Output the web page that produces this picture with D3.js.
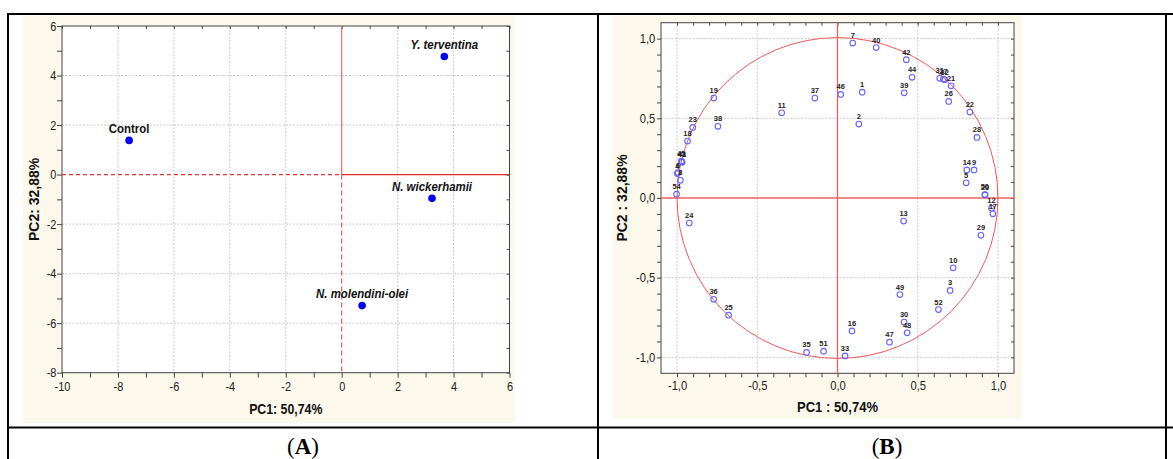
<!DOCTYPE html>
<html><head><meta charset="utf-8">
<script src="https://cdn.jsdelivr.net/npm/d3@7/dist/d3.min.js"></script>
<style>body{margin:0;background:#fff}svg{display:block}text{font-family:"Liberation Sans",Arial,sans-serif}</style>
</head><body>
<script>
// ---------- Panel A data (scores) ----------
const scoreNames = ["Control", "Y. terventina", "N. wickerhamii", "N. molendini-olei"];
const scorePC1   = [-7.6, 3.67, 3.23, 0.73];
const scorePC2   = [1.38, 4.77, -0.96, -5.29];
const scoreItalic = [false, true, true, true];
const xTicksA = [-10, -8, -6, -4, -2, 0, 2, 4, 6];
const yTicksA = [-8, -6, -4, -2, 0, 2, 4, 6];

// ---------- Panel B data (loadings) ----------
const loadLabels = ["7","40","42","44","39","1","46","37","11","2","19","38","23","18",
  "41","43","45","4","6","8","54","31","27","32","21","26","22","28","14","9","5","20","50","12","17",
  "13","29","24","10","3","49","52","30","48","47","16","33","51","35","36","25"];
const loadPC1 = [0.095,0.241,0.429,0.465,0.416,0.154,0.020,-0.141,-0.348,0.133,-0.771,-0.745,-0.902,-0.935,
  -0.968,-0.971,-0.973,-0.998,-0.995,-0.979,-1.003,0.637,0.660,0.668,0.708,0.693,0.825,0.869,0.806,0.851,0.802,0.920,0.918,0.960,0.968,
  0.412,0.894,-0.924,0.721,0.702,0.389,0.629,0.415,0.434,0.324,0.090,0.047,-0.087,-0.193,-0.772,-0.679];
const loadPC2 = [0.972,0.944,0.868,0.757,0.660,0.664,0.650,0.627,0.535,0.464,0.627,0.450,0.443,0.357,
  0.224,0.228,0.232,0.153,0.160,0.111,0.024,0.751,0.746,0.742,0.704,0.606,0.539,0.380,0.176,0.176,0.095,0.019,0.022,-0.064,-0.099,
  -0.145,-0.234,-0.157,-0.438,-0.580,-0.606,-0.700,-0.778,-0.846,-0.905,-0.834,-0.991,-0.961,-0.969,-0.636,-0.735];
const xTicksB = [-1, -0.5, 0, 0.5, 1];
const yTicksB = [-1, -0.5, 0, 0.5, 1];

const W = 1173, H = 459;
const svg = d3.select("body").append("svg").attr("width", W).attr("height", H);
svg.append("rect").attr("width", W).attr("height", H).attr("fill", "#fff");

// beige panels
svg.append("rect").attr("x", 23).attr("y", 16).attr("width", 492).attr("height", 407).attr("fill", "#fdf8ec");
svg.append("rect").attr("x", 612).attr("y", 16).attr("width", 410).attr("height", 403).attr("fill", "#fdf8ec");

const comma = v => d3.format(".1f")(v).replace(".", ",").replace("−", "-");

function drawPanel(o) {
  const g = svg.append("g");
  const {x, y} = o;
  const [x0, x1] = x.range(), [y0, y1] = y.range(); // y0 bottom, y1 top
  g.append("rect").attr("x", x0).attr("y", y1).attr("width", x1 - x0).attr("height", y0 - y1).attr("fill", "#fff");
  // grid
  g.selectAll(".gx").data(o.gridX).join("line")
    .attr("x1", d => x(d)).attr("x2", d => x(d)).attr("y1", y1).attr("y2", y0)
    .attr("stroke", "#c9c9c9").attr("stroke-dasharray", "2,1.5").attr("stroke-width", 1);
  g.selectAll(".gy").data(o.gridY).join("line")
    .attr("y1", d => y(d)).attr("y2", d => y(d)).attr("x1", x0).attr("x2", x1)
    .attr("stroke", "#c9c9c9").attr("stroke-dasharray", "2,1.5").attr("stroke-width", 1);
  // axes
  const bottom = g.append("g").attr("transform", `translate(0,${y0})`)
    .call(d3.axisBottom(x).tickValues(o.minorX).tickSize(o.tick).tickSizeOuter(0).tickPadding(o.padB)
      .tickFormat(d => o.labX.some(v => Math.abs(v - d) < 1e-9) ? o.fmt(d) : ""));
  const left = g.append("g").attr("transform", `translate(${x0},0)`)
    .call(d3.axisLeft(y).tickValues(o.minorY).tickSize(o.tick).tickSizeOuter(0).tickPadding(o.padL)
      .tickFormat(d => o.labY.some(v => Math.abs(v - d) < 1e-9) ? o.fmt(d) : ""));
  g.append("g").attr("transform", `translate(0,${y1})`)
    .call(d3.axisTop(x).tickValues(o.minorX).tickSize(-3).tickSizeOuter(0).tickFormat(""));
  g.append("g").attr("transform", `translate(${x1},0)`)
    .call(d3.axisRight(y).tickValues(o.minorY).tickSize(-3).tickSizeOuter(0).tickFormat(""));
  g.selectAll(".domain").attr("stroke", "none");
  g.selectAll(".tick line").attr("stroke", "#444");
  [bottom, left].forEach(a => a.selectAll("text").attr("fill", "#222")
    .style("font-family", '"Liberation Sans",Arial,sans-serif').style("font-size", o.tickFont + "px")
    .attr("transform", `scale(${o.sx},1)`));
  // frame
  g.append("rect").attr("x", x0).attr("y", y1).attr("width", x1 - x0).attr("height", y0 - y1)
    .attr("fill", "none").attr("stroke", "#444").attr("stroke-width", 1);
  // titles
  g.append("text").attr("transform", `translate(${(x0 + x1) / 2},${o.xtY}) scale(${o.sx},1)`)
    .attr("text-anchor", "middle").attr("font-weight", "bold").attr("font-size", o.titleFont).attr("fill", "#111").text(o.xTitle);
  g.append("text").attr("transform", `translate(${o.ytX},${(y0 + y1) / 2}) rotate(-90)`)
    .attr("text-anchor", "middle").attr("font-weight", "bold").attr("font-size", o.titleFont).attr("fill", "#111").text(o.yTitle);
  return g;
}

// ---------- Panel A ----------
const xA = d3.scaleLinear([-10, 6], [62, 509.5]);
const yA = d3.scaleLinear([-8, 6], [372.7, 26]);
const gA = drawPanel({x: xA, y: yA, gridX: [-8, -6, -4, -2, 2, 4], gridY: [-6, -4, -2, 2, 4],
  minorX: d3.range(-10, 7, 1), minorY: d3.range(-8, 7, 1), labX: xTicksA, labY: yTicksA,
  fmt: d => String(d), tick: 5, padB: 4, padL: 1.3, tickFont: 12.5, sx: 0.88, titleFont: 14,
  xTitle: "PC1: 50,74%", yTitle: "PC2: 32,88%", xtY: 414, ytX: 39});
// reference lines
gA.append("line").attr("x1", xA(-10)).attr("x2", xA(0)).attr("y1", yA(0)).attr("y2", yA(0))
  .attr("stroke", "#e53535").attr("stroke-width", 1.2).attr("stroke-dasharray", "4,3");
gA.append("line").attr("x1", xA(0)).attr("x2", xA(6)).attr("y1", yA(0)).attr("y2", yA(0))
  .attr("stroke", "#e02828").attr("stroke-width", 1.4);
gA.append("line").attr("x1", xA(0)).attr("x2", xA(0)).attr("y1", yA(6)).attr("y2", yA(0))
  .attr("stroke", "#f06868").attr("stroke-width", 1.2);
gA.append("line").attr("x1", xA(0)).attr("x2", xA(0)).attr("y1", yA(0)).attr("y2", yA(-8))
  .attr("stroke", "#ee5a5a").attr("stroke-width", 1.2).attr("stroke-dasharray", "5,3");
// points
gA.selectAll(".pa").data(scoreNames).join("circle")
  .attr("cx", (d, i) => xA(scorePC1[i])).attr("cy", (d, i) => yA(scorePC2[i])).attr("r", 3.8).attr("fill", "#0000f0");
gA.selectAll(".la").data(scoreNames).join("text")
  .attr("transform", (d, i) => `translate(${xA(scorePC1[i])},${yA(scorePC2[i]) - 7.5}) scale(0.88,1)`)
  .attr("text-anchor", "middle").attr("font-size", 13).attr("font-weight", "bold")
  .attr("font-style", (d, i) => scoreItalic[i] ? "italic" : "normal").attr("fill", "#111").text(d => d);

// ---------- Panel B ----------
const xB = d3.scaleLinear([-1.1, 1.1], [661, 1014]);
const yB = d3.scaleLinear([-1.1, 1.1], [373.3, 22.7]);
const gB = drawPanel({x: xB, y: yB, gridX: [-1, -0.5, 0.5, 1], gridY: [-1, -0.5, 0.5, 1],
  minorX: d3.range(-10, 11, 1).map(v => v / 10), minorY: d3.range(-10, 11, 1).map(v => v / 10),
  labX: xTicksB, labY: yTicksB, fmt: comma, tick: 4, padB: 4.2, padL: 2.2, tickFont: 12, sx: 0.93, titleFont: 14,
  xTitle: "PC1 : 50,74%", yTitle: "PC2 : 32,88%", xtY: 412, ytX: 627});
gB.append("line").attr("x1", xB(-1.1)).attr("x2", xB(1.1)).attr("y1", yB(0)).attr("y2", yB(0))
  .attr("stroke", "#f06060").attr("stroke-width", 1.3);
gB.append("line").attr("x1", xB(0)).attr("x2", xB(0)).attr("y1", yB(1.1)).attr("y2", yB(-1.1))
  .attr("stroke", "#f06060").attr("stroke-width", 1.3);
gB.append("circle").attr("cx", xB(0)).attr("cy", yB(0)).attr("r", xB(1) - xB(0))
  .attr("fill", "none").attr("stroke", "#f05a5a").attr("stroke-width", 1);
gB.selectAll(".pb").data(loadLabels).join("circle")
  .attr("cx", (d, i) => xB(loadPC1[i])).attr("cy", (d, i) => yB(loadPC2[i])).attr("r", 2.8)
  .attr("fill", "none").attr("stroke", "#6464ff").attr("stroke-width", 1.1);
gB.selectAll(".lb").data(loadLabels).join("text")
  .attr("x", (d, i) => xB(loadPC1[i])).attr("y", (d, i) => yB(loadPC2[i]) - 5)
  .attr("text-anchor", "middle").attr("font-size", 7.5).attr("font-weight", "bold").attr("fill", "#222").text(d => d);

// ---------- table borders & captions ----------
const border = [[7, 14, 1173, 14], [7, 427.5, 1173, 427.5], [8, 13, 8, 459], [598, 13, 598, 459], [1166, 13, 1166, 459]];
svg.selectAll(".bd").data(border).join("line")
  .attr("x1", d => d[0]).attr("y1", d => d[1]).attr("x2", d => d[2]).attr("y2", d => d[3])
  .attr("stroke", "#000").attr("stroke-width", 2);
[["A", 303], ["B", 887]].forEach(([t, cx]) => {
  const tx = svg.append("text").attr("x", cx).attr("y", 454).attr("text-anchor", "middle")
    .style("font-family", '"Liberation Serif","Times New Roman",serif').attr("font-size", 23).attr("fill", "#000");
  tx.append("tspan").text("(");
  tx.append("tspan").attr("font-weight", "bold").text(t);
  tx.append("tspan").text(")");
});
</script>
</body></html>
